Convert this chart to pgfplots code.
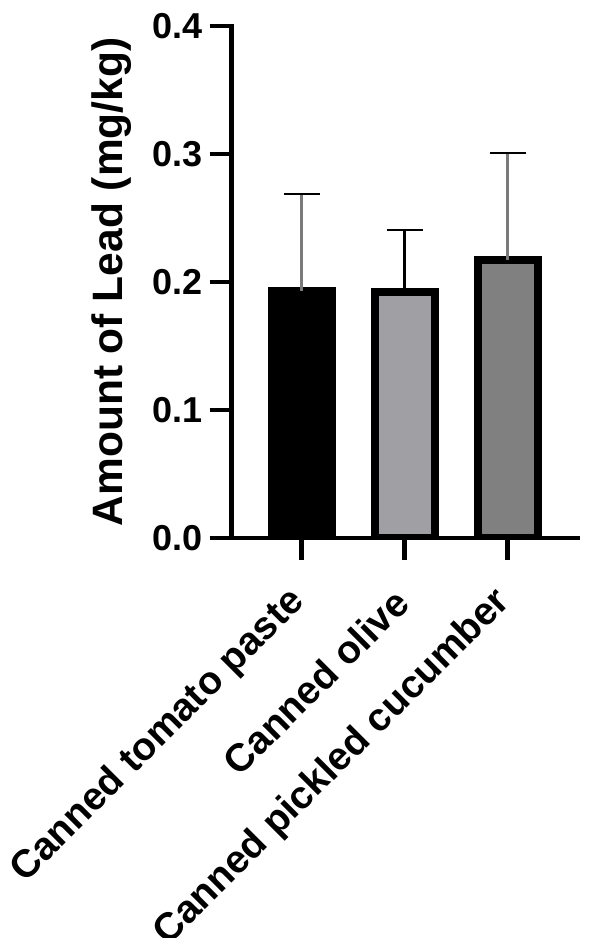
\documentclass[border=0pt]{standalone}
\usepackage{fontspec}
\setmainfont{Liberation Sans}
\usepackage{pgfplots}
\pgfplotsset{compat=1.18}
\definecolor{barB}{HTML}{A0A0A4}
\definecolor{barC}{HTML}{808080}
\definecolor{stem}{HTML}{7A7A7A}
\begin{document}
\begin{tikzpicture}
\useasboundingbox (-231.7pt,-400pt) rectangle (358.3pt,538pt);
\begin{axis}[
  at={(0pt,0pt)}, anchor=south west,
  scale only axis, width=346.3pt, height=512pt,
  xmin=-0.68, xmax=2.683, ymin=0, ymax=0.4,
  axis lines*=left,
  axis line style={line width=4.5pt, line cap=rect},
  tick align=outside,
  major tick length=22pt,
  every tick/.style={black, line width=4.5pt},
  xtick={0,1,2},
  xticklabels={Canned tomato paste, Canned olive, Canned pickled cucumber},
  ytick={0,0.1,0.2,0.3,0.4},
  /pgf/number format/assume math mode=true,
  yticklabel={\pgfmathprintnumber[fixed, fixed zerofill, precision=1]{\tick}},
  yticklabel style={font=\fontsize{36}{36}\selectfont\bfseries, inner sep=0pt, anchor=east, xshift=-7pt},
  xticklabel style={font=\fontsize{39}{39}\selectfont\bfseries, inner sep=0pt, xshift=-3pt, yshift=-36pt, rotate=45, anchor=east},
  ylabel={Amount of Lead (mg/kg)},
  ylabel style={font=\fontsize{42.5}{42.5}\selectfont\bfseries, at={(axis description cs:-0.3465,0.5)}, anchor=center},
  ybar, bar width=60pt, bar shift=0pt,
  clip=true,
]
\addplot[fill=black, draw=black, line width=8pt,
  error bars/.cd, y dir=plus, y explicit,
  error bar style={line width=2.5pt, stem},
  error mark options={rotate=90, mark size=18pt, line width=2pt, black}]
  coordinates {(0,0.193) +- (0,0.0758)};
\addplot[fill=barB, draw=black, line width=8pt,
  error bars/.cd, y dir=plus, y explicit,
  error bar style={line width=2.5pt, black},
  error mark options={rotate=90, mark size=18pt, line width=2pt, black}]
  coordinates {(1,0.192) +- (0,0.0489)};
\addplot[fill=barC, draw=black, line width=8pt,
  error bars/.cd, y dir=plus, y explicit,
  error bar style={line width=2.5pt, stem},
  error mark options={rotate=90, mark size=18pt, line width=2pt, black}]
  coordinates {(2,0.217) +- (0,0.0835)};
\end{axis}
\end{tikzpicture}
\end{document}
